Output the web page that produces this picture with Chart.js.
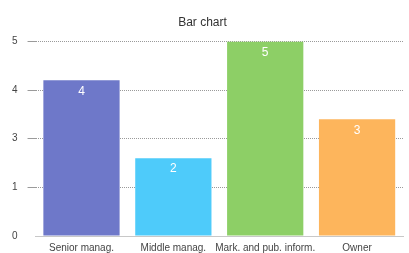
<!DOCTYPE html>
<html>
<head>
<meta charset="utf-8">
<script src="https://cdn.jsdelivr.net/npm/chart.js@4"></script>
<style>
  html, body { margin: 0; padding: 0; background: #fff; }
</style>
</head>
<body>
<canvas id="bar_chart" width="409" height="253"></canvas>
<script>
// data
const categories = ['Senior manag.', 'Middle manag.', 'Mark. and pub. inform.', 'Owner'];
const values = [4, 2, 5, 3];
const barColors = ['#6e78c9', '#4ecbfa', '#8dcf66', '#fdb55c'];
const tickLabels = ['0', '1', '3', '4', '5'];

// white value labels drawn inside the top of each bar
const valueLabels = {
    id: 'valueLabels',
    afterDatasetsDraw(chart) {
        const ctx = chart.ctx;
        const meta = chart.getDatasetMeta(0);
        ctx.save();
        ctx.fillStyle = '#ffffff';
        ctx.font = '12px "Liberation Sans", Arial, sans-serif';
        ctx.textAlign = 'center';
        ctx.textBaseline = 'middle';
        meta.data.forEach(function(bar, i){
            ctx.fillText(String(values[i]), bar.x, bar.y + 11);
        });
        ctx.restore();
    }
};

const ctxBar = document.getElementById('bar_chart').getContext('2d');

const barChart = new Chart(ctxBar, {
    type: 'bar',
    data: {
        labels: categories,
        datasets: [
            {
                label: '',
                data: values,
                backgroundColor: barColors,
                borderWidth: 0,
                barPercentage: 0.83,
                categoryPercentage: 1
            }
        ]
    },
    options: {
        responsive: false,
        animation: false,
        layout: {
            padding: { top: 8, left: 2, right: 6, bottom: -7 }
        },
        plugins: {
            legend: { display: false },
            tooltip: { enabled: false },
            title: {
                display: true,
                text: 'Bar chart',
                color: '#333',
                font: { family: '"Liberation Sans", Arial, sans-serif', size: 12, weight: 'normal' },
                padding: { top: 7, bottom: 12 }
            }
        },
        scales: {
            x: {
                grid: { display: false, drawTicks: false },
                border: { display: true, color: '#c8c8c8', width: 1 },
                ticks: {
                    color: '#444',
                    padding: 6,
                    maxRotation: 0,
                    autoSkip: false,
                    font: { family: '"Liberation Sans", Arial, sans-serif', size: 10 }
                }
            },
            y: {
                min: 0,
                max: 5,
                border: { display: false, dash: [1, 1] },
                grid: {
                    color: function(c){ return c.tick && c.tick.value === 0 ? 'rgba(0,0,0,0)' : '#9a9a9a'; },
                    lineWidth: 1,
                    tickLength: 8
                },
                afterBuildTicks: function(scale){
                    scale.ticks = tickLabels.map(function(t, i){
                        return { value: 5 * i / (tickLabels.length - 1) };
                    });
                },
                ticks: {
                    color: '#444',
                    padding: 10,
                    font: { family: '"Liberation Sans", Arial, sans-serif', size: 10 },
                    callback: function(value, index){ return tickLabels[index]; }
                }
            }
        }
    },
    plugins: [valueLabels]
});
</script>
</body>
</html>
